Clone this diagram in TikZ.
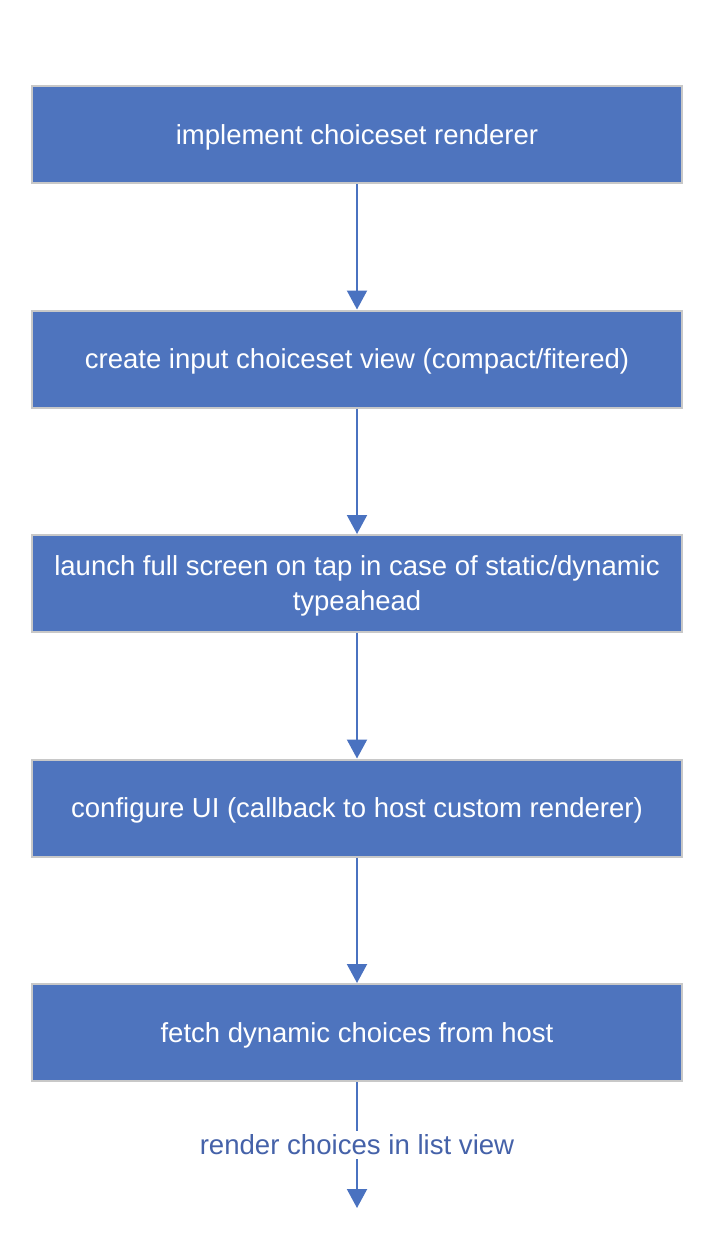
\documentclass[tikz,border=0pt]{standalone}
\usepackage{fontspec}
\setmainfont{Liberation Sans}
\usetikzlibrary{arrows.meta}
\definecolor{boxfill}{HTML}{4E74BE}
\definecolor{boxline}{HTML}{C8C8C8}
\definecolor{arrowc}{HTML}{4A72C0}
\definecolor{labelc}{HTML}{4562A9}
\newcommand\tstrut{\rule[-7pt]{0pt}{33pt}}
\tikzset{
  stepbox/.style={draw=boxline, line width=2pt, fill=boxfill, text=white,
    minimum width=650pt, minimum height=97pt, inner sep=0pt, align=center,
    font=\fontsize{27.5pt}{35pt}\selectfont},
  flow/.style={draw=arrowc, line width=2pt, -{Triangle[width=20pt,length=19pt]}},
  flowlabel/.style={fill=white, text=labelc, inner sep=4pt,
    font=\fontsize{27.6pt}{35pt}\selectfont}
}
\begin{document}
\begin{tikzpicture}[x=1pt,y=-1pt]
\useasboundingbox (0,0) rectangle (716,1242);
\node[stepbox] (b1) at (357,134.5) {\tstrut implement choiceset renderer};
\node[stepbox] (b2) at (357,359) {\tstrut create input choiceset view (compact/fitered)};
\node[stepbox] (b3) at (357,583.5) {\tstrut launch full screen on tap in case of static/dynamic\\typeahead\tstrut};
\node[stepbox] (b4) at (357,808) {\tstrut configure UI (callback to host custom renderer)};
\node[stepbox] (b5) at (357,1032.5) {\tstrut fetch dynamic choices from host};
\coordinate (end) at (357,1208);
\draw[flow] (b1) -- (b2);
\draw[flow] (b2) -- (b3);
\draw[flow] (b3) -- (b4);
\draw[flow] (b4) -- (b5);
\draw[flow] (b5) -- (end) node[flowlabel, pos=0.5] (lbl) {render choices in list view};
\end{tikzpicture}
\end{document}
